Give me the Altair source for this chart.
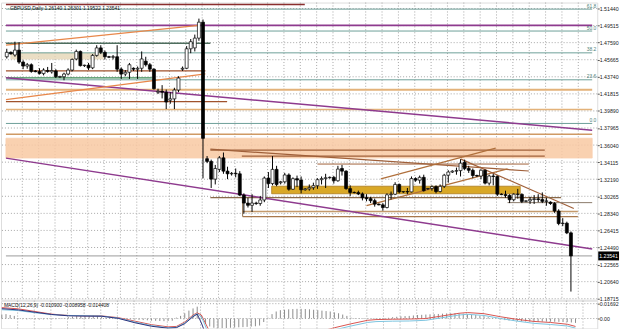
import altair as alt
import pandas as pd

# ---------------- candles (GBPUSD, Daily) ----------------
opens = [1.4600,1.4650,1.4620,1.4675,1.4540,1.4495,1.4510,1.4440,1.4432,1.4410,
         1.4445,1.4430,1.4440,1.4370,1.4375,1.4405,1.4450,1.4575,1.4660,1.4500,
         1.4505,1.4475,1.4615,1.4700,1.4650,1.4600,1.4595,1.4600,1.4460,1.4405,
         1.4425,1.4470,1.4460,1.4470,1.4550,1.4510,1.4460,1.4200,1.4210,1.4200,
         1.4110,1.4125,1.4225,1.4460,1.4470,1.4690,1.4700,1.4810,1.4990,1.3450,
         1.3420,1.3220,1.3330,1.3460,1.3310,1.3280,1.3285,1.3280,1.3040,1.2950,
         1.2925,1.2950,1.2945,1.2985,1.3232,1.3170,1.3330,1.3180,1.3190,1.3267,
         1.3106,1.3225,1.3210,1.3100,1.3110,1.3124,1.3146,1.3214,1.3226,1.3236,
         1.3240,1.3202,1.3340,1.3310,1.3113,1.3070,1.3068,1.3053,1.3010,1.3000,
         1.2977,1.2938,1.2930,1.2900,1.3043,1.3050,1.3160,1.3076,1.3080,1.3076,
         1.3226,1.3208,1.3240,1.3110,1.3115,1.3136,1.3080,1.3139,1.3264,1.3300,
         1.3310,1.3316,1.3410,1.3340,1.3320,1.3261,1.3255,1.3320,1.3175,1.3255,
         1.3250,1.3050,1.3045,1.3036,1.2988,1.3050,1.3048,1.2970,1.2975,1.2991,
         1.2997,1.2990,1.2969,1.2960,1.2945,1.2860,1.2719,1.2723,1.2614]
highs = [1.4690,1.4660,1.4770,1.4765,1.4560,1.4530,1.4525,1.4450,1.4470,1.4470,
         1.4485,1.4530,1.4460,1.4385,1.4420,1.4470,1.4580,1.4680,1.4670,1.4510,
         1.4530,1.4630,1.4730,1.4730,1.4670,1.4610,1.4620,1.4730,1.4480,1.4450,
         1.4530,1.4480,1.4490,1.4660,1.4600,1.4530,1.4470,1.4240,1.4280,1.4230,
         1.4200,1.4250,1.4380,1.4490,1.4720,1.4800,1.4850,1.5030,1.5020,1.3480,
         1.3440,1.3380,1.3480,1.3520,1.3360,1.3300,1.3340,1.3310,1.3060,1.3010,
         1.3050,1.2965,1.3030,1.3250,1.3300,1.3480,1.3370,1.3200,1.3290,1.3285,
         1.3240,1.3260,1.3250,1.3120,1.3160,1.3180,1.3230,1.3250,1.3280,1.3250,
         1.3255,1.3370,1.3380,1.3320,1.3150,1.3080,1.3090,1.3070,1.3050,1.3020,
         1.3000,1.2945,1.2950,1.3060,1.3080,1.3185,1.3170,1.3085,1.3120,1.3250,
         1.3240,1.3260,1.3270,1.3120,1.3150,1.3150,1.3160,1.3280,1.3320,1.3320,
         1.3350,1.3445,1.3440,1.3370,1.3340,1.3270,1.3330,1.3330,1.3270,1.3280,
         1.3260,1.3060,1.3090,1.3050,1.3060,1.3110,1.3060,1.2980,1.3020,1.3040,
         1.3050,1.3070,1.3010,1.2970,1.2960,1.2880,1.2780,1.2740,1.2630]
lows = [1.4580,1.4625,1.4600,1.4520,1.4460,1.4465,1.4420,1.4425,1.4400,1.4390,
        1.4420,1.4410,1.4360,1.4360,1.4335,1.4390,1.4435,1.4560,1.4490,1.4485,
        1.4450,1.4460,1.4600,1.4630,1.4570,1.4585,1.4570,1.4430,1.4350,1.4380,
        1.4350,1.4440,1.4350,1.4430,1.4490,1.4430,1.4230,1.4180,1.4130,1.4010,
        1.4070,1.4010,1.4200,1.4440,1.4460,1.4640,1.4660,1.4780,1.3229,1.3400,
        1.3120,1.3160,1.3300,1.3280,1.3220,1.3260,1.3240,1.3030,1.2830,1.2900,
        1.2850,1.2930,1.2920,1.2960,1.3120,1.3150,1.3140,1.3160,1.3170,1.3090,
        1.3100,1.3130,1.3060,1.3090,1.3090,1.3100,1.3110,1.3160,1.3120,1.3225,
        1.3170,1.3190,1.3260,1.3100,1.3030,1.3060,1.3040,1.2980,1.2970,1.2950,
        1.2910,1.2925,1.2865,1.2890,1.2990,1.3040,1.3060,1.3065,1.3050,1.3070,
        1.3190,1.3170,1.3080,1.3100,1.3090,1.3060,1.3070,1.3120,1.3180,1.3290,
        1.3270,1.3250,1.3320,1.3290,1.3230,1.3245,1.3220,1.3160,1.3150,1.3150,
        1.3030,1.3040,1.3010,1.2950,1.2970,1.3000,1.2950,1.2960,1.2940,1.2940,
        1.2960,1.2950,1.2920,1.2930,1.2840,1.2700,1.2690,1.2600,1.1952]
closes = [1.4650,1.4632,1.4675,1.4540,1.4495,1.4510,1.4435,1.4432,1.4412,1.4450,
          1.4435,1.4445,1.4375,1.4378,1.4405,1.4450,1.4570,1.4660,1.4500,1.4505,
          1.4475,1.4615,1.4700,1.4650,1.4600,1.4595,1.4600,1.4460,1.4405,1.4425,
          1.4510,1.4460,1.4470,1.4575,1.4510,1.4460,1.4240,1.4210,1.4200,1.4090,
          1.4125,1.4225,1.4360,1.4470,1.4690,1.4770,1.4810,1.4990,1.3680,1.3420,
          1.3220,1.3340,1.3460,1.3310,1.3280,1.3285,1.3280,1.3040,1.2950,1.2925,
          1.2950,1.2945,1.2985,1.3232,1.3170,1.3330,1.3160,1.3190,1.3267,1.3106,
          1.3225,1.3210,1.3100,1.3110,1.3124,1.3146,1.3214,1.3226,1.3236,1.3240,
          1.3202,1.3333,1.3310,1.3113,1.3070,1.3068,1.3053,1.3010,1.3000,1.2977,
          1.2938,1.2930,1.2900,1.3043,1.3050,1.3160,1.3076,1.3080,1.3076,1.3226,
          1.3208,1.3240,1.3090,1.3115,1.3136,1.3080,1.3139,1.3264,1.3300,1.3310,
          1.3316,1.3400,1.3340,1.3320,1.3261,1.3255,1.3320,1.3175,1.3255,1.3250,
          1.3050,1.3045,1.3036,1.2988,1.3050,1.3048,1.2968,1.2975,1.2991,1.2997,
          1.2990,1.2969,1.2975,1.2945,1.2860,1.2719,1.2723,1.2614,1.2354]
bar_index = list(range(len(opens)))

# ---------------- axes / grid ----------------
price_ticks = [1.51440, 1.49515, 1.47590, 1.45665, 1.43740, 1.41815, 1.39890,
               1.37965, 1.36040, 1.34115, 1.32190, 1.30265, 1.28340, 1.26415,
               1.24490, 1.22565, 1.20640, 1.18715]
grid_bars = [3.8, 7.8, 11.8, 15.8, 19.8, 23.8, 27.8, 31.8, 35.8, 39.8, 43.8, 47.8,
             51.8, 55.8, 59.8, 63.8, 67.8, 71.8, 75.8, 79.8, 83.8, 87.8, 91.8, 95.8,
             99.8, 103.8, 107.8, 111.8, 115.8, 119.8, 123.8, 127.8, 131.8, 135.8, 139.8]
macd_ticks = [0.01692, 0.0]

# ---------------- drawn objects: lines (bar index / price) ----------------
seg_i0 = [-0.2, -0.2, -0.2, -0.2, -0.2, -0.2, -0.2, -0.2, -0.2, -0.2,
          -0.2, -0.2, -0.2, -0.2, 49.8, 57.5, 49.8, 76.0, 91.5, 88.0,
          111.1, 49.8, 122.5, 57.7, 57.7, 57.7, -0.2, -0.2, -0.2, -0.2, -0.2]
seg_i1 = [72.9, 143.2, 143.2, 143.2, 49.8, 143.2, 48.6, 35.5, 143.2, 143.2,
          53.9, 143.2, 143.2, 143.2, 131.6, 131.6, 127.7, 127.7, 119.6, 122.5,
          138.7, 135.6, 143.2, 139.7, 139.7, 57.7, 143.2, 143.2, 47.0, 48.6, 143.2]
seg_p0 = [1.5189, 1.5137, 1.4954, 1.4890, 1.4753, 1.4644, 1.4440, 1.4362, 1.4340, 1.4228,
          1.4094, 1.4005, 1.3848, 1.3726, 1.3547, 1.3480, 1.3558, 1.3390, 1.3223, 1.2921,
          1.3446, 1.3011, 1.2955, 1.2854, 1.2798, 1.3011, 1.4362, 1.3457, 1.4731, 1.4116, 1.23541]
seg_p1 = [1.5189, 1.5137, 1.4954, 1.4890, 1.4753, 1.4644, 1.4440, 1.4362, 1.4340, 1.4228,
          1.4094, 1.4005, 1.3848, 1.3726, 1.3547, 1.3480, 1.3312, 1.3390, 1.3569, 1.3335,
          1.2888, 1.3011, 1.2955, 1.2854, 1.2798, 1.2798, 1.3772, 1.2433, 1.4954, 1.4407, 1.23541]
seg_color = ["#8b2e2e", "#6c9f98", "#8e3a8e", "#6c9f98", "#4e6e5e", "#6c9f98", "#a0522d", "#3a8a55", "#6c9f98", "#e3b27a",
             "#a0522d", "#e3b27a", "#6c9f98", "#cf9a64", "#a0603a", "#a0603a", "#a0603a", "#a0603a", "#b0703c", "#b0703c",
             "#a0603a", "#8a6a4a", "#8a7a6a", "#c49a6c", "#a8784c", "#8a6a4a", "#8e3a8e", "#8e3a8e", "#e8874a", "#e8874a", "#9a9a9a"]
seg_width = [1.5, 1, 1.6, 1, 1.5, 1, 1.2, 1.2, 1, 1.8,
             1.2, 1.5, 1, 1.5, 1.2, 1.2, 1.2, 1, 1.2, 1.2,
             1.2, 1.2, 1, 1.5, 1.2, 1, 1.5, 1.5, 1.2, 1.2, 1]

# ---------------- drawn objects: rectangles ----------------
band_i0 = [-0.2, 1.0, 64.8]
band_i1 = [143.2, 23.6, 125.6]
band_p0 = [1.3681, 1.4641, 1.3140]
band_p1 = [1.3458, 1.4574, 1.3055]
band_fill = ["#f9c9a3", "#e6d6b6", "#d8a41c"]
band_stroke = ["#f9c9a3", "#e6d6b6", "#a87412"]
band_opacity = [0.85, 0.8, 0.95]

fib_levels = [1.5137, 1.4890, 1.4644, 1.4340, 1.3848]
fib_names = ["61.8", "50.0", "38.2", "23.6", "0.0"]

header_text = "GBPUSD,Daily  1.26140 1.26301 1.19522 1.23541"
bid_price = [1.23541]
bid_text = ["1.23541"]

# ---------------- MACD ----------------
macd_title = "MACD(12,26,9) -0.010900 -0.008958 -0.014408"
hist = [0.0045, 0.0050, 0.0040, 0.0030,
        -0.0005, -0.0008, -0.0010, -0.0008, -0.0010, -0.0012, -0.0010, -0.0008, -0.0010, -0.0008, -0.0006, -0.0004,
        0.0015, 0.0022, 0.0028, 0.0030, 0.0028, 0.0030, 0.0032, 0.0030, 0.0026,
        0.0010, 0.0008, 0.0005, 0.0003, -0.0005, -0.0008, -0.0010, -0.0012,
        -0.0015, -0.0018, -0.0020, -0.0024, -0.0026, -0.0028, -0.0030, -0.0028, -0.0025,
        0.0010, 0.0030, 0.0060, 0.0090, 0.0115, 0.0135,
        0.0040,
        -0.0060, -0.0090, -0.0105, -0.0110, -0.0110, -0.0108, -0.0105, -0.0102, -0.0100, -0.0098, -0.0095, -0.0092, -0.0088, -0.0080,
        -0.0040, 0.0010, 0.0050, 0.0080,
        0.0095, 0.0100, 0.0105, 0.0108, 0.0110, 0.0110, 0.0108, 0.0105, 0.0100, 0.0095, 0.0090, 0.0085, 0.0080, 0.0070, 0.0060, 0.0045, 0.0030,
        0.0010, 0.0006, 0.0005, 0.0004, 0.0003, 0.0003, 0.0004, 0.0005, 0.0006, 0.0008,
        0.0015, 0.0020, 0.0025, 0.0028, 0.0030, 0.0035, 0.0040, 0.0042, 0.0045, 0.0048, 0.0050, 0.0052, 0.0055, 0.0058, 0.0060, 0.0060, 0.0058, 0.0055, 0.0050, 0.0045, 0.0040, 0.0032, 0.0025,
        0.0015, 0.0008, 0.0002,
        -0.0010, -0.0018, -0.0022, -0.0026, -0.0030, -0.0032, -0.0034, -0.0035, -0.0036, -0.0036, -0.0035, -0.0035, -0.0036, -0.0037, -0.0038, -0.0040, -0.0042, -0.0045, -0.0050]

line_idx = [0, 4, 8, 12, 16, 20, 24, 28, 32, 36, 40, 42, 44, 46, 47, 48, 50, 60, 70, 78, 80, 84, 88, 90, 94, 98, 102, 106, 110, 112, 116, 120, 124, 128, 132, 136, 138]
signal_vals = [0.0124, 0.0110, 0.0080, 0.0050, 0.0035, 0.0030, 0.0030, 0.0010, -0.0030, -0.0070, -0.0095, -0.0090, -0.0040, 0.0040, 0.0065, 0.0040, -0.0150, -0.0300, -0.0250, -0.0130, -0.0105, -0.0060, -0.0020, -0.0012, -0.0008, -0.0006, 0.0000, 0.0030, 0.0060, 0.0068, 0.0055, 0.0020, -0.0010, -0.0033, -0.0045, -0.0065, -0.0090]
light_vals = [0.0100, 0.0090, 0.0065, 0.0045, 0.0035, 0.0032, 0.0028, 0.0005, -0.0040, -0.0080, -0.0105, -0.0100, -0.0050, 0.0030, 0.0055, 0.0020, -0.0200, -0.0350, -0.0280, -0.0160, -0.0130, -0.0085, -0.0045, -0.0035, -0.0030, -0.0028, -0.0020, 0.0010, 0.0040, 0.0048, 0.0035, 0.0000, -0.0030, -0.0055, -0.0068, -0.0085, -0.0109]
navy_idx = [0, 4, 8, 12, 16, 20, 24, 28, 32, 36, 40, 42, 44, 46, 47, 48, 50, 60, 80, 100, 112, 120, 138]
navy_vals = [0.0112, 0.0098, 0.0072, 0.0046, 0.0031, 0.0028, 0.0026, 0.0002, -0.0048, -0.0088, -0.0110, -0.0104, -0.0058, 0.0022, 0.0050, -0.0050, -0.0300, -0.0450, -0.0300, -0.0200, -0.0140, -0.0160, -0.0144]

# ================= build =================
W = 602
FONT = "Liberation Sans"
GRID = "#a6a6a6"

xs = alt.Scale(domain=[-0.2025, 143.23], nice=False, zero=False)
ys = alt.Scale(domain=[1.18603, 1.52110], nice=False, zero=False)
xax = alt.Axis(labels=False, ticks=False, domain=False, grid=False, title=None)
yax = alt.Axis(orient="right", values=price_ticks, format=".5f", grid=False,
               labelFontSize=5.3, labelFont=FONT, labelColor="#1a1a1a",
               labelPadding=0, tickSize=2, tickColor="#555", domain=False,
               title=None, labelOverlap=False, labelFlush=False)


def X(f):
    return alt.X(f, type="quantitative", scale=xs, axis=xax)


def Y(f):
    return alt.Y(f, type="quantitative", scale=ys, axis=yax)


cdf = pd.DataFrame({"i": bar_index, "o": opens, "h": highs, "l": lows, "c": closes})
segs = pd.DataFrame({"i": seg_i0, "i2": seg_i1, "p": seg_p0, "p2": seg_p1,
                     "col": seg_color, "w": seg_width})
bands = pd.DataFrame({"i": band_i0, "i2": band_i1, "p": band_p0, "p2": band_p1,
                      "f": band_fill, "s": band_stroke, "op": band_opacity})
fibs = pd.DataFrame({"p": fib_levels, "t": fib_names})
bid = pd.DataFrame({"p": bid_price, "t": bid_text})
head = pd.DataFrame({"t": [header_text]})
vgrid = pd.DataFrame({"i": grid_bars})
hgrid = pd.DataFrame({"p": price_ticks})

vgrid_layer = alt.Chart(vgrid).mark_rule(color=GRID, strokeWidth=1, strokeDash=[1, 2]).encode(
    x=X("i"))
hgrid_layer = alt.Chart(hgrid).mark_rule(color=GRID, strokeWidth=1, strokeDash=[1, 2]).encode(
    y=Y("p"))

band_layer = alt.Chart(bands).mark_rect(strokeWidth=0.8, clip=True).encode(
    x=X("i"), x2="i2", y=Y("p"), y2="p2",
    fill=alt.Fill("f:N", scale=None), stroke=alt.Stroke("s:N", scale=None),
    opacity=alt.Opacity("op:Q", scale=None))

seg_layer = alt.Chart(segs).mark_rule(clip=True).encode(
    x=X("i"), x2="i2", y=Y("p"), y2="p2",
    color=alt.Color("col:N", scale=None),
    strokeWidth=alt.StrokeWidth("w:Q", scale=None))

wicks = alt.Chart(cdf).mark_rule(color="black", strokeWidth=1).encode(
    x=X("i"), y=Y("l"), y2="h")

bodies = alt.Chart(cdf).mark_bar(size=3, stroke="black", strokeWidth=0.7).encode(
    x=X("i"), y=Y("o"), y2="c",
    fill=alt.condition("datum.c >= datum.o", alt.value("white"), alt.value("black")))

fib_layer = alt.Chart(fibs).mark_text(align="right", baseline="bottom", fontSize=5,
                                      font=FONT, color="#4f7f7a", dy=-0.5).encode(
    x=alt.value(601), y=Y("p"), text="t:N")

head_layer = alt.Chart(head).mark_text(align="left", baseline="middle", fontSize=5,
                                       font=FONT, color="#111").encode(
    x=alt.value(9), y=alt.value(5), text="t:N")

bid_box = alt.Chart(bid).mark_rule(color="black", strokeWidth=9, strokeCap="butt").encode(
    x=alt.value(603), x2=alt.value(624), y=Y("p"))

bid_lbl = alt.Chart(bid).mark_text(align="left", baseline="middle", fontSize=5.2,
                                   font=FONT, color="white").encode(
    x=alt.value(604), y=Y("p"), text="t:N")

main = alt.layer(vgrid_layer, hgrid_layer, band_layer, seg_layer, wicks, bodies,
                 fib_layer, head_layer, bid_box, bid_lbl).properties(width=W, height=300)

# MACD panel
mys = alt.Scale(domain=[-0.01128, 0.02030], nice=False, zero=False)
myax = alt.Axis(orient="right", values=macd_ticks,
                labelExpr="datum.value == 0 ? '0.00' : format(datum.value, '.5f')",
                grid=False, labelFontSize=5.3, labelFont=FONT, labelColor="#1a1a1a",
                labelPadding=0, tickSize=2, tickColor="#555", domain=False,
                title=None, labelOverlap=False, labelFlush=False)


def MY(f):
    return alt.Y(f, type="quantitative", scale=mys, axis=myax)


hdf = pd.DataFrame({"i": bar_index, "v": hist, "z": [0.0] * len(hist)})
ldf = pd.concat([
    pd.DataFrame({"i": line_idx, "v": signal_vals, "s": "signal"}),
    pd.DataFrame({"i": line_idx, "v": light_vals, "s": "light"}),
    pd.DataFrame({"i": navy_idx, "v": navy_vals, "s": "main"}),
], ignore_index=True)
mgrid = pd.DataFrame({"v": macd_ticks})

m_vgrid = alt.Chart(vgrid).mark_rule(color=GRID, strokeWidth=1, strokeDash=[1, 2]).encode(
    x=X("i"))
m_hgrid = alt.Chart(mgrid).mark_rule(color=GRID, strokeWidth=1, strokeDash=[1, 2]).encode(
    y=MY("v"))

hist_layer = alt.Chart(hdf).mark_rule(color="#8c8c8c", strokeWidth=1, clip=True).encode(
    x=X("i"), y=MY("z"), y2="v")

line_layer = alt.Chart(ldf).mark_line(strokeWidth=1, clip=True).encode(
    x=X("i"), y=MY("v"),
    color=alt.Color("s:N", legend=None,
                    scale=alt.Scale(domain=["signal", "light", "main"],
                                    range=["#d9534f", "#7cc4e0", "#2a2f7a"])))

mtitle = alt.Chart(pd.DataFrame({"t": [macd_title]})).mark_text(
    align="left", baseline="middle", fontSize=5, font=FONT, color="#111").encode(
    x=alt.value(3), y=alt.value(4.5), text="t:N")

macd = alt.layer(m_vgrid, m_hgrid, hist_layer, line_layer, mtitle).properties(
    width=W, height=28)

chart = alt.vconcat(main, macd, spacing=1, bounds="flush").resolve_scale(
    y="independent").properties(padding=0).configure_view(
    stroke="#555555", strokeWidth=1).configure(background="white")

chart.save("out.html", embed_options={"renderer": "svg", "actions": False})
